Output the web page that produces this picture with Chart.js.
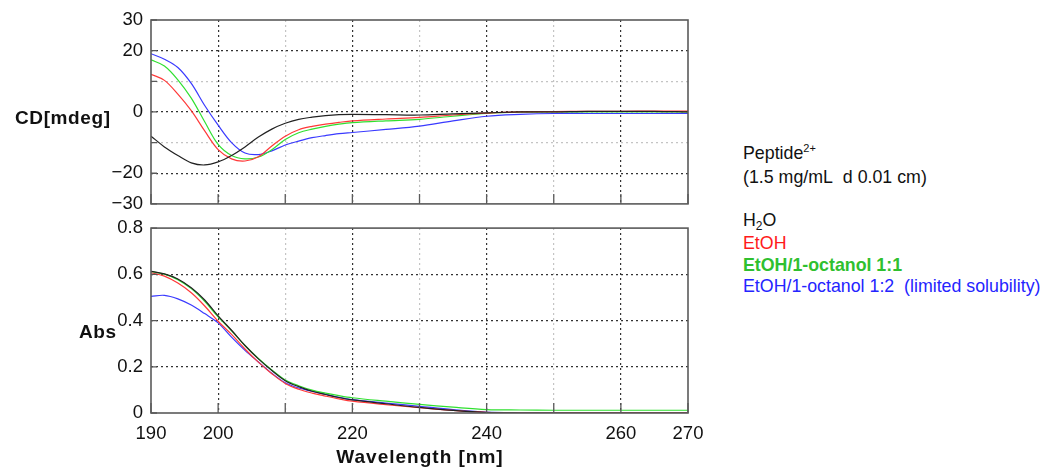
<!DOCTYPE html>
<html>
<head>
<meta charset="utf-8">
<script src="https://cdn.jsdelivr.net/npm/chart.js@4.4.1/dist/chart.umd.min.js"></script>
<style>
  body { margin: 0; background: #fff; font-family: "Liberation Sans", Arial, sans-serif; }
  #wrap { position: relative; width: 1043px; height: 467px; overflow: hidden; }
  canvas { position: absolute; left: 0; }
  .lbl { position: absolute; font-weight: bold; font-size: 19px; line-height: 19px; letter-spacing: 0.6px; color: #111; white-space: nowrap; }
  #legend { position: absolute; left: 743px; top: 143px; font-size: 17.8px; line-height: 21.5px; color: #111; white-space: nowrap; }
  .sup { font-size: 11px; position: relative; top: -7px; }
  .sub { font-size: 12px; position: relative; top: 4px; }
</style>
</head>
<body>
<div id="wrap">
  <canvas id="absChart" width="720" height="260" style="top:209px"></canvas>
  <canvas id="cdChart" width="720" height="223" style="top:0"></canvas>
  <div class="lbl" style="left:15px; top:108px;">CD[mdeg]</div>
  <div class="lbl" style="left:79px; top:322px;">Abs</div>
  <div class="lbl" style="left:270px; top:447px; width:300px; text-align:center; letter-spacing:1px;">Wavelength [nm]</div>
  <div id="legend">
    Peptide<span class="sup">2+</span><br>
    (1.5 mg/mL&nbsp; d 0.01 cm)<br>
    <br>
    H<span class="sub">2</span>O<br>
    <span style="color:#ff1a1a">EtOH</span><br>
    <span style="color:#2fc02f; font-weight:bold">EtOH/1-octanol 1:1</span><br>
    <span style="color:#2424ff">EtOH/1-octanol 1:2&nbsp; (limited solubility)</span>
  </div>
</div>
<script>
// wavelength grid (nm)
const wavelengths = [190,192,194,196,198,200,202,204,206,208,210,212,214,216,218,220,225,230,235,240,245,250,255,260,265,270];

// CD [mdeg]
const cdH2O   = [-7.9,-11.4,-14.2,-16.6,-17.3,-16.3,-14.2,-11.4,-8.2,-5.6,-3.7,-2.4,-1.7,-1.2,-0.9,-0.8,-0.9,-1.0,-0.6,-0.3,0,0,0.2,0.2,0.2,0];
const cdEtOH  = [12.3,10.3,5.8,0.4,-6.2,-12.3,-15.3,-16.0,-14.6,-11.1,-7.9,-5.8,-4.7,-4.0,-3.4,-2.9,-2.3,-1.8,-1.0,-0.4,0,0.1,0.2,0.2,0.3,0.3];
const cdOct11 = [17.0,15.0,10.5,4.5,-3.2,-10.6,-14.2,-15.3,-14.7,-12.3,-9.0,-6.8,-5.6,-4.7,-4.0,-3.5,-2.9,-2.4,-1.4,-0.5,-0.1,0,0,0,0,0];
const cdOct12 = [19.0,17.2,14.5,9.3,2.1,-4.3,-10.0,-13.4,-13.9,-12.7,-10.8,-9.5,-8.4,-7.7,-7.1,-6.7,-5.7,-4.6,-2.9,-1.4,-0.8,-0.5,-0.5,-0.5,-0.5,-0.5];

// absorbance
const absH2O   = [0.613,0.602,0.580,0.542,0.489,0.420,0.358,0.292,0.234,0.184,0.140,0.114,0.094,0.080,0.067,0.057,0.040,0.024,0.011,0.002,0,0,0,0,0,0];
const absEtOH  = [0.607,0.592,0.562,0.520,0.463,0.397,0.340,0.277,0.220,0.170,0.128,0.103,0.086,0.073,0.061,0.051,0.036,0.023,0.011,0.003,0.001,0.001,0.002,0.002,0.002,0.002];
const absOct11 = [0.612,0.601,0.577,0.538,0.483,0.416,0.356,0.292,0.236,0.186,0.143,0.118,0.099,0.086,0.075,0.066,0.051,0.037,0.025,0.015,0.013,0.012,0.012,0.012,0.012,0.012];
const absOct12 = [0.505,0.509,0.494,0.467,0.430,0.390,0.328,0.271,0.221,0.172,0.131,0.108,0.094,0.081,0.068,0.058,0.043,0.029,0.015,0.004,0.001,0,0,0,0,0];

// tick labels
const xTickLabels = [190, 200, 220, 240, 260, 270];
const cdTickLabels = [30, 20, 0, -20, -30];
const absTickLabels = [0, 0.2, 0.4, 0.6, 0.8];

const lineColors = ['#222222', '#ff3838', '#30e030', '#3a3aff'];
const tickFont = { family: '"Liberation Sans", Arial, sans-serif', size: 18.5 };

function makeSets(seriesList) {
  return seriesList.map((vals, i) => ({
    data: wavelengths.map((w, k) => ({ x: w, y: vals[k] })),
    borderColor: lineColors[i],
    borderWidth: 1.2,
    pointRadius: 0,
    tension: 0.35,
    fill: false
  }));
}

// solid frame plus small inward tick marks
const framePlugin = {
  id: 'frame',
  afterDatasetsDraw(chart) {
    const { ctx, chartArea: a, scales } = chart;
    ctx.save();
    ctx.setLineDash([]);
    ctx.strokeStyle = '#5a5a5a';
    ctx.lineWidth = 1.3;
    ctx.beginPath();
    scales.x.ticks.forEach(t => {
      const px = scales.x.getPixelForValue(t.value);
      ctx.moveTo(px, a.bottom);
      ctx.lineTo(px, a.bottom - 10);
    });
    scales.y.ticks.forEach(t => {
      const py = scales.y.getPixelForValue(t.value);
      ctx.moveTo(a.left, py);
      ctx.lineTo(a.left + 6, py);
    });
    ctx.stroke();
    ctx.lineWidth = 1.6;
    ctx.strokeRect(a.left, a.top, a.right - a.left, a.bottom - a.top);
    ctx.restore();
  }
};

function xGridColor(c) {
  const v = c.tick.value;
  if (v === 190 || v === 270) return 'rgba(0,0,0,0)';
  return v % 20 === 0 ? '#333' : '#c4c4c4';
}

function xScale(showLabels, height) {
  return {
    type: 'linear',
    min: 190,
    max: 270,
    ticks: {
      display: showLabels,
      stepSize: 10,
      font: tickFont,
      color: '#111',
      padding: 10,
      maxRotation: 0,
      autoSkip: false,
      callback: v => xTickLabels.includes(v) ? String(v) : ''
    },
    grid: { color: xGridColor, lineWidth: 1.2, drawTicks: false },
    border: { display: false, dash: [2, 3] },
    afterFit: s => { s.height = height; }
  };
}

Chart.defaults.animation = false;

new Chart(document.getElementById('cdChart'), {
  type: 'line',
  data: { datasets: makeSets([cdH2O, cdEtOH, cdOct11, cdOct12]) },
  options: {
    responsive: false,
    layout: { padding: { left: 0, right: 32, top: 20, bottom: 0 } },
    plugins: { legend: { display: false }, tooltip: { enabled: false } },
    scales: {
      x: xScale(false, 12),
      y: {
        min: -30,
        max: 30,
        ticks: {
          stepSize: 10,
          font: tickFont,
          color: '#111',
          padding: 8,
          callback: v => cdTickLabels.includes(v) ? (v < 0 ? '\u2212' + Math.abs(v) : String(v)) : ''
        },
        grid: {
          color: c => {
            const v = c.tick.value;
            if (v === 30 || v === -30) return 'rgba(0,0,0,0)';
            return v % 20 === 0 ? '#333' : '#c4c4c4';
          },
          lineWidth: 1.2,
          drawTicks: false
        },
        border: { display: false, dash: [2, 3] },
        afterFit: s => { s.width = 151; }
      }
    }
  },
  plugins: [framePlugin]
});

new Chart(document.getElementById('absChart'), {
  type: 'line',
  data: { datasets: makeSets([absH2O, absEtOH, absOct11, absOct12]) },
  options: {
    responsive: false,
    layout: { padding: { left: 0, right: 32, top: 12, bottom: 0 } },
    plugins: { legend: { display: false }, tooltip: { enabled: false } },
    scales: {
      x: xScale(true, 56),
      y: {
        min: 0,
        max: 0.8,
        ticks: {
          stepSize: 0.1,
          font: tickFont,
          color: '#111',
          padding: 8,
          callback: v => {
            const r = Math.round(v * 10) / 10;
            return absTickLabels.includes(r) ? String(r) : '';
          }
        },
        grid: {
          color: c => {
            const n = Math.round(c.tick.value * 10);
            if (n === 0 || n === 8) return 'rgba(0,0,0,0)';
            return n % 2 === 0 ? '#333' : '#c4c4c4';
          },
          lineWidth: 1.2,
          drawTicks: false
        },
        border: { display: false, dash: [2, 3] },
        afterFit: s => { s.width = 151; }
      }
    }
  },
  plugins: [framePlugin]
});
</script>
</body>
</html>
